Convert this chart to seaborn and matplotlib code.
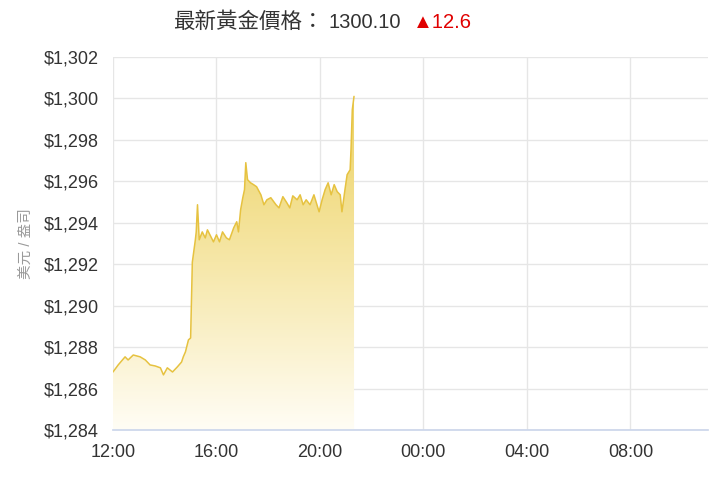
import matplotlib
matplotlib.use("Agg")
import matplotlib.pyplot as plt
import matplotlib.dates as mdates
import numpy as np
import pandas as pd
import seaborn as sns
from matplotlib.colors import LinearSegmentedColormap

# 价格数据
times = ["12:00", "12:12", "12:28", "12:35", "12:47", "13:03", "13:15", "13:26",
         "13:38", "13:50", "13:57", "14:06", "14:18", "14:29", "14:39", "14:43",
         "14:48", "14:55", "15:00", "15:04", "15:11", "15:13", "15:16", "15:20",
         "15:27", "15:34", "15:39", "15:46", "15:53", "16:00", "16:07", "16:14",
         "16:23", "16:30", "16:40", "16:47", "16:51", "16:56", "17:01", "17:05",
         "17:08", "17:12", "17:19", "17:26", "17:33", "17:43", "17:50", "17:57",
         "18:06", "18:18", "18:25", "18:34", "18:43", "18:50", "18:57", "19:07",
         "19:14", "19:21", "19:28", "19:37", "19:46", "19:58", "20:05", "20:12",
         "20:19", "20:26", "20:33", "20:40", "20:47", "20:51", "20:58", "21:03",
         "21:10", "21:12", "21:15", "21:19"]
prices = [1286.8, 1287.14, 1287.53, 1287.38, 1287.62, 1287.53, 1287.38, 1287.14,
          1287.09, 1287.0, 1286.66, 1287.0, 1286.8, 1287.04, 1287.28, 1287.53,
          1287.77, 1288.35, 1288.44, 1292.1, 1293.18, 1293.56, 1294.87, 1293.18,
          1293.56, 1293.27, 1293.66, 1293.37, 1293.08, 1293.42, 1293.08, 1293.56,
          1293.27, 1293.18, 1293.76, 1294.05, 1293.56, 1294.63, 1295.21, 1295.6,
          1296.9, 1296.08, 1295.93, 1295.84, 1295.74, 1295.35, 1294.87, 1295.11,
          1295.21, 1294.87, 1294.72, 1295.26, 1294.97, 1294.72, 1295.3, 1295.11,
          1295.35, 1294.87, 1295.11, 1294.87, 1295.35, 1294.53, 1295.11, 1295.6,
          1295.93, 1295.35, 1295.84, 1295.5, 1295.35, 1294.53, 1295.6, 1296.32,
          1296.56, 1297.53, 1299.46, 1300.1]
title_label = "最新黃金價格："
latest = "1300.10"
change = "▲12.6"
y_ticks = [1284, 1286, 1288, 1290, 1292, 1294, 1296, 1298, 1300, 1302]

df = pd.DataFrame({"time": pd.to_datetime(["2018-01-01 " + t for t in times]),
                   "price": prices})
start = pd.Timestamp("2018-01-01 12:00")
end = pd.Timestamp("2018-01-02 11:00")

sns.set_theme(style="white")
plt.rcParams['font.family'] = ['Liberation Sans', 'Noto Sans CJK TC', 'DejaVu Sans']

fig = plt.figure(figsize=(7.2, 4.8), dpi=100)
ax = fig.add_axes([113 / 720, 50 / 480, 595 / 720, 373 / 480])

line_color = "#e6c240"
sns.lineplot(data=df, x="time", y="price", ax=ax, color=line_color, linewidth=1.1)

# 渐变填充
poly = ax.fill_between(df["time"], df["price"], 1284, color="none", linewidth=0)
x0, x1 = mdates.date2num(df["time"].iloc[0]), mdates.date2num(df["time"].iloc[-1])
cmap = LinearSegmentedColormap.from_list("gold", ["#fffdf5", "#f6e7a8", "#ecd160"])
grad = np.linspace(0, 1, 256).reshape(-1, 1)
im = ax.imshow(grad, cmap=cmap, aspect="auto", origin="lower",
               extent=[x0, x1, 1284, 1300.2], zorder=1)
im.set_clip_path(poly.get_paths()[0], transform=ax.transData)

ax.set_xlim(start, end)
ax.set_ylim(1284, 1302)
ax.set_yticks(y_ticks)
ax.set_yticklabels([f"${v:,}" for v in y_ticks])
ax.xaxis.set_major_locator(mdates.HourLocator(byhour=[0, 4, 8, 12, 16, 20]))
ax.xaxis.set_major_formatter(mdates.DateFormatter("%H:%M"))
ax.grid(True, color="#e6e6e6", linewidth=1)
ax.set_axisbelow(True)
for s in ["top", "right", "left"]:
    ax.spines[s].set_visible(False)
ax.spines["bottom"].set_color("#ccd6eb")
ax.tick_params(axis="y", colors="#333333", labelsize=13, length=0, pad=10)
ax.tick_params(axis="x", colors="#333333", labelsize=13, length=0, pad=10)
ax.set_xlabel("")
ax.set_ylabel("美元 / 盎司", color="#999999", fontsize=10.5, labelpad=8)

# 标题
ty = 1 - 28 / 480
fig.text(173 / 720, ty, title_label, fontsize=15.5, color="#333333",
         va="baseline", ha="left")
fig.text(328 / 720, ty, latest, fontsize=14.5, color="#333333",
         va="baseline", ha="left")
fig.text(413 / 720, ty, change, fontsize=14.5, color="#e00000",
         va="baseline", ha="left")

fig.savefig("out.png", dpi=100)
